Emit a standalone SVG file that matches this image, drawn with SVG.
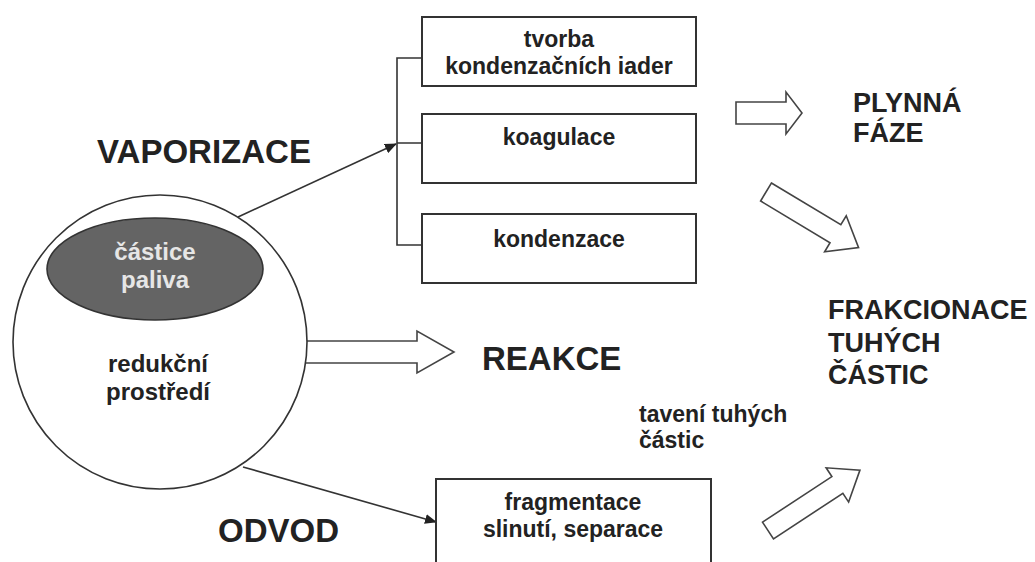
<svg xmlns="http://www.w3.org/2000/svg" width="1035" height="562" viewBox="0 0 1035 562">
<defs>
<marker id="ah" markerWidth="12" markerHeight="10" refX="11" refY="5" orient="auto" markerUnits="userSpaceOnUse">
<path d="M0,0 L12,5 L0,10 Z" fill="#222"/>
</marker>
<style>
text{font-family:"Liberation Sans",Arial,sans-serif;font-weight:bold;fill:#222}
.big{font-size:33px}
.mid{font-size:27px}
.sm{font-size:23px;text-anchor:middle}
.box{fill:#fff;stroke:#333;stroke-width:2}
.blk{fill:#fff;stroke:#444;stroke-width:1.6;stroke-linejoin:miter}
.ln{fill:none;stroke:#333;stroke-width:1.6}
</style>
</defs>
<rect width="1035" height="562" fill="#fff"/>
<g id="connectors">
<path class="ln" d="M238,217 L396,144" marker-end="url(#ah)"/>
<path class="ln" d="M422,58 H397 V245 H422 M397,143 H422"/>
<path class="ln" d="M243,467 L436,522" marker-end="url(#ah)"/>
<path class="blk" d="M300,341 H417 V331 L454,352 L417,373 V363 H300"/>
<path class="blk" d="M736,102 H786 V92 L802,113 L786,134 V124 H736 Z"/>
<path class="blk" transform="translate(766,192) rotate(31)" d="M0,-10.5 H81 V-21 L108,0 L81,21 V10.5 H0 Z"/>
<path class="blk" transform="translate(768,530.5) rotate(-33.3)" d="M0,-10 H83 V-20.5 L110,0 L83,20.5 V10 H0 Z"/>
</g>
<g id="sphere">
<circle cx="160" cy="342" r="147" fill="#fff" stroke="#333" stroke-width="1.6"/>
<text class="sm" x="158" y="372" style="font-size:24px">redukční</text>
<text class="sm" x="158" y="400" style="font-size:24px">prostředí</text>
</g>
<g id="particle">
<ellipse cx="155" cy="269" rx="108" ry="51" fill="#646464" stroke="#333" stroke-width="1.6"/>
<text class="sm" x="155" y="260" style="font-size:24px;fill:#e6e6e6">částice</text>
<text class="sm" x="155" y="288" style="font-size:24px;fill:#e6e6e6">paliva</text>
</g>
<g id="vaporizace"><text class="big" x="97" y="163">VAPORIZACE</text></g>
<g id="reakce"><text class="big" x="482" y="370">REAKCE</text></g>
<g id="odvod"><text class="big" x="218" y="542">ODVOD</text></g>
<g id="box-tvorba">
<rect class="box" x="422" y="17" width="274" height="69"/>
<text class="sm" x="559" y="47">tvorba</text>
<text class="sm" x="559" y="74">kondenzačních iader</text>
</g>
<g id="box-koagulace">
<rect class="box" x="422" y="114" width="274" height="69"/>
<text class="sm" x="559" y="145">koagulace</text>
</g>
<g id="box-kondenzace">
<rect class="box" x="422" y="214" width="274" height="69"/>
<text class="sm" x="559" y="247">kondenzace</text>
</g>
<g id="box-fragmentace">
<rect class="box" x="436" y="479" width="275" height="100"/>
<text class="sm" x="573" y="510">fragmentace</text>
<text class="sm" x="573" y="537">slinutí, separace</text>
</g>
<g id="taveni">
<text x="639" y="422" style="font-size:23px">tavení tuhých</text>
<text x="639" y="448" style="font-size:23px">částic</text>
</g>
<g id="plynna">
<text class="mid" x="853" y="112">PLYNNÁ</text>
<text class="mid" x="853" y="142">FÁZE</text>
</g>
<g id="frakcionace">
<text class="mid" x="828" y="319">FRAKCIONACE</text>
<text class="mid" x="828" y="352">TUHÝCH</text>
<text class="mid" x="828" y="384">ČÁSTIC</text>
</g>
</svg>
